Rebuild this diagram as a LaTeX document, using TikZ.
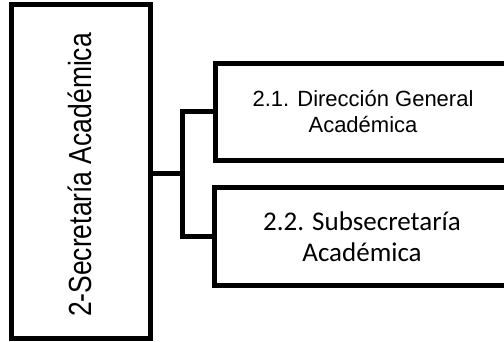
\documentclass[tikz,border=0pt]{standalone}
\usepackage{fontspec}
\setmainfont{Liberation Sans}
\newfontfamily\carlito{Carlito}
\usepackage{graphicx}
\begin{document}
\begin{tikzpicture}[x=1pt,y=1pt,
  box/.style={draw=black, line width=5pt, fill=white, inner sep=0pt, align=center},
  conn/.style={draw=black, line width=5pt, line join=miter}]
\useasboundingbox (0,0) rectangle (504,341);
\begin{scope}
\clip (0,0) rectangle (504,341);
\node[box, minimum width=139pt, minimum height=334pt] (main) at (80.5,169.5) {};
\node[rotate=90, inner sep=0pt] (maintext) at (79.5,166)
  {\scalebox{0.827}[1]{\fontsize{32}{38}\selectfont 2-Secretaría Académica}};
\node[box, minimum width=295pt, minimum height=97.5pt,
  font=\fontsize{22}{26}\selectfont] (b1) at (363,229.25)
  {2.1. Dirección General\\Académica};
\node[box, minimum width=295pt, minimum height=98pt,
  font=\carlito\fontsize{27}{31}\selectfont] (b2) at (362,104.5)
  {2.2. Subsecretaría\\Académica};
\coordinate (j) at (182,167.5);
\draw[conn] (main.east |- j) -- (j);
\draw[conn] (b1.west) -- (b1.west -| j) -- (b2.west -| j) -- (b2.west);
\end{scope}
\end{tikzpicture}
\end{document}
